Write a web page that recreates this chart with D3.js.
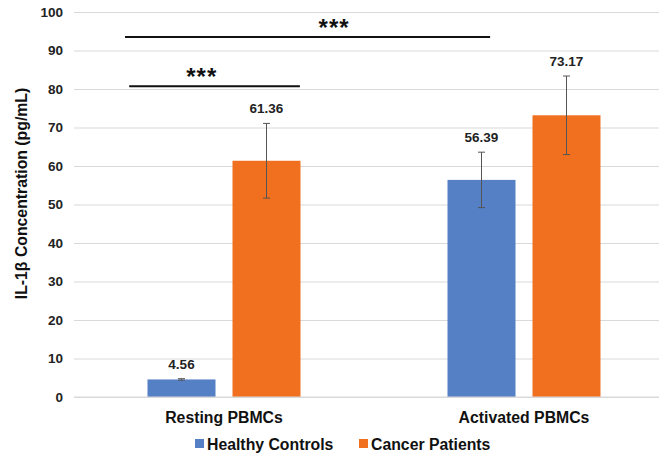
<!DOCTYPE html>
<html><head><meta charset="utf-8">
<script src="https://cdn.jsdelivr.net/npm/d3@7"></script>
<style>html,body{margin:0;padding:0;background:#fff;}svg{display:block;font-family:"Liberation Sans",Arial,sans-serif;}</style>
</head><body><svg id="chart" width="659" height="454"></svg>
<script>
const categories = ["Resting PBMCs", "Activated PBMCs"];
const seriesNames = ["Healthy Controls", "Cancer Patients"];
const healthyValues = [4.56, 56.39];
const cancerValues = [61.36, 73.17];
const healthyErrors = [0.2, 7.2];
const cancerErrors = [9.7, 10.2];
const yTicks = [0, 10, 20, 30, 40, 50, 60, 70, 80, 90, 100];
const yTitle = "IL-1β Concentration (pg/mL)";
const sigLabels = ["***", "***"];
const sigLevels = [93.5, 80.7];
const colors = ["#5580C6", "#F07020"];

const svg = d3.select("#chart");
const W = 659, H = 454;
const m = {left: 74, top: 12, bottom: 57};
const plotRight = 674;

const y = d3.scaleLinear().domain([0, 100]).range([H - m.bottom, m.top]);
const x0 = d3.scaleBand().domain(categories).range([m.left, plotRight]).padding(0);
const x1 = d3.scaleBand().domain(seriesNames)
  .range([x0.bandwidth() * 0.245, x0.bandwidth() * 0.755]).paddingInner(0.2).paddingOuter(0);

// gridlines
const yAxis = d3.axisLeft(y).tickValues(yTicks).tickSize(-(plotRight - m.left)).tickPadding(11).tickFormat(d3.format("d"));
const gy = svg.append("g").attr("transform", `translate(${m.left},0)`).call(yAxis);
gy.select(".domain").remove();
gy.selectAll(".tick line").attr("stroke", "#d9d9d9").attr("stroke-width", 1);
gy.selectAll(".tick text").attr("font-size", 13.5).attr("font-weight", "bold").attr("fill", "#222")
  .attr("font-family", "'Liberation Sans', Arial, sans-serif");

// y title
svg.append("text").attr("transform", `translate(27,${(y(0)+y(100))/2 - 11}) rotate(-90)`)
  .attr("text-anchor", "middle").attr("font-size", 15.8).attr("font-weight", "bold").attr("fill", "#111")
  .text(yTitle);

const rows = categories.map((c, i) => ({
  cat: c,
  items: [
    {s: seriesNames[0], v: healthyValues[i], e: healthyErrors[i], c: colors[0]},
    {s: seriesNames[1], v: cancerValues[i], e: cancerErrors[i], c: colors[1]}
  ]
}));

const g = svg.append("g");
rows.forEach(r => {
  const gg = g.append("g").attr("transform", `translate(${x0(r.cat)},0)`);
  gg.selectAll("rect").data(r.items).join("rect")
    .attr("x", d => x1(d.s)).attr("width", x1.bandwidth())
    .attr("y", d => y(d.v)).attr("height", d => y(0) - y(d.v))
    .attr("fill", d => d.c);
  r.items.forEach(d => {
    const cx = x1(d.s) + x1.bandwidth() / 2;
    const eg = gg.append("g").attr("stroke", "#555").attr("stroke-width", 1);
    eg.append("line").attr("x1", cx).attr("x2", cx).attr("y1", y(d.v + d.e)).attr("y2", y(d.v - d.e));
    eg.append("line").attr("x1", cx - 3.5).attr("x2", cx + 3.5).attr("y1", y(d.v + d.e)).attr("y2", y(d.v + d.e));
    eg.append("line").attr("x1", cx - 3.5).attr("x2", cx + 3.5).attr("y1", y(d.v - d.e)).attr("y2", y(d.v - d.e));
    gg.append("text").attr("x", cx).attr("y", y(d.v + d.e) - 10)
      .attr("text-anchor", "middle").attr("font-size", 13.5).attr("font-weight", "bold").attr("fill", "#222")
      .text(d3.format(".2f")(d.v));
  });
});

// baseline axis
svg.append("line").attr("x1", m.left).attr("x2", W).attr("y1", y(0)).attr("y2", y(0)).attr("stroke", "#d9d9d9");

// category labels
svg.selectAll(".cat").data(categories).join("text").attr("class", "cat")
  .attr("x", d => x0(d) + x0.bandwidth() / 2).attr("y", 422.5)
  .attr("text-anchor", "middle").attr("font-size", 15.8).attr("font-weight", "bold").attr("fill", "#111")
  .text(d => d);

// significance annotations
const bw = x0.bandwidth();
const sig = [
  {level: sigLevels[0], x1: x0(categories[0]) + bw * 0.17, x2: x0(categories[1]) + bw * 0.387, tx: x0(categories[0]) + bw * 0.867, label: sigLabels[0]},
  {level: sigLevels[1], x1: x0(categories[0]) + bw * 0.184, x2: x0(categories[0]) + bw * 0.753, tx: x0(categories[0]) + bw * 0.426, label: sigLabels[1]}
];
sig.forEach(s => {
  svg.append("line").attr("x1", s.x1).attr("x2", s.x2).attr("y1", y(s.level)).attr("y2", y(s.level))
    .attr("stroke", "#111").attr("stroke-width", 2);
  svg.append("text").attr("x", s.tx).attr("y", y(s.level) - 1).attr("text-anchor", "middle")
    .attr("font-size", 24).attr("font-weight", "bold").attr("fill", "#111").attr("letter-spacing", 1)
    .text(s.label);
});

// legend
const legX = [195, 359];
seriesNames.forEach((n, i) => {
  svg.append("rect").attr("x", legX[i]).attr("y", 439).attr("width", 9).attr("height", 9).attr("fill", colors[i]);
  svg.append("text").attr("x", legX[i] + 12).attr("y", 449.5).attr("font-size", 15.8).attr("font-weight", "bold")
    .attr("fill", "#111").text(n);
});
</script></body></html>
